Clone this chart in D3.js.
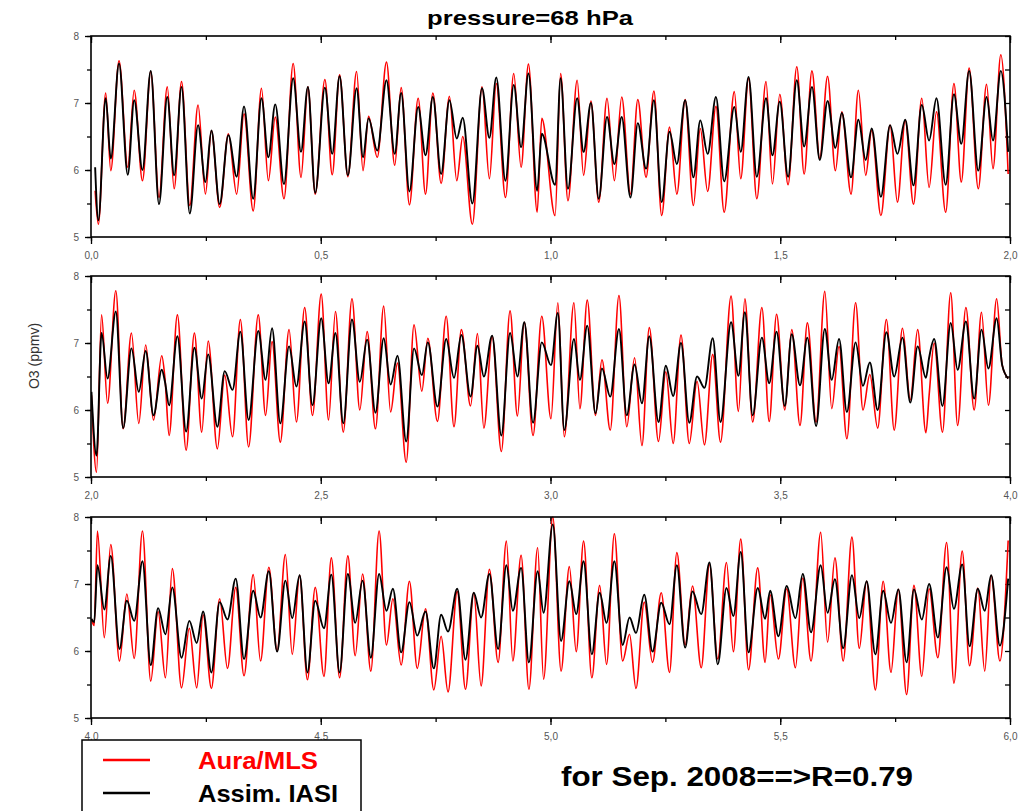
<!DOCTYPE html>
<html>
<head>
<meta charset="utf-8">
<script src="https://cdn.jsdelivr.net/npm/d3@7"></script>
<style>
  body { margin: 0; background: #fff; }
  svg { display: block; font-family: "Liberation Sans", Arial, sans-serif; }
</style>
</head>
<body>
<div id="chart"></div>
<script>
// values: peaks/troughs of both series, panel by panel
var p1X = [0.009,0.016,0.032,0.043,0.061,0.080,0.094,0.112,0.130,0.148,0.166,0.181,0.197,0.215,0.233,0.249,0.262,0.280,0.299,0.317,
  0.333,0.353,0.371,0.386,0.401,0.420,0.440,0.457,0.472,0.488,0.509,0.525,0.541,0.559,0.578,0.592,0.604,0.623,0.643,0.661,
  0.675,0.693,0.712,0.728,0.744,0.762,0.780,0.796,0.809,0.830,0.851,0.867,0.882,0.902,0.920,0.936,0.952,0.971,0.981,1.010,
  1.022,1.038,1.058,1.072,1.088,1.105,1.123,1.139,1.155,1.174,1.190,1.208,1.225,1.242,1.259,1.275,1.293,1.311,1.326,1.342,
  1.360,1.378,1.400,1.414,1.431,1.449,1.469,1.483,1.499,1.517,1.536,1.552,1.569,1.586,1.603,1.620,1.634,1.654,1.670,1.686,
  1.699,1.719,1.739,1.755,1.772,1.790,1.808,1.824,1.840,1.860,1.878,1.894,1.911,1.931,1.949,1.963,1.980,1.996];
var p1Mls = [5.69,5.19,7.15,5.99,7.63,6.04,7.19,5.84,7.47,5.59,7.24,5.72,7.32,5.47,6.97,5.64,6.59,5.44,6.54,5.64,
  6.84,5.39,7.22,5.84,6.79,5.57,7.59,5.89,7.24,5.64,7.35,5.93,7.42,5.90,7.47,5.99,6.80,6.19,7.61,6.07,
  7.23,5.48,7.07,5.64,7.15,5.80,7.10,5.84,6.50,5.19,7.24,5.87,7.29,5.59,7.44,6.04,7.58,5.37,6.77,5.32,
  7.44,5.54,7.34,5.92,7.03,5.52,7.07,5.84,7.09,5.64,7.05,5.89,7.18,5.32,6.64,5.64,7.05,5.47,6.62,5.68,
  6.95,5.37,7.17,5.87,7.37,5.57,7.32,5.79,7.13,5.78,7.54,5.94,7.48,6.17,7.40,5.99,6.87,5.64,7.19,5.92,
  6.59,5.32,6.67,5.52,6.74,5.49,7.07,5.74,6.87,5.37,7.29,5.82,7.52,5.72,7.28,6.02,7.72,5.94];
var p1Iasi = [6.04,5.25,7.07,6.17,7.59,5.93,7.04,6.00,7.48,5.49,7.09,5.92,7.24,5.35,6.67,5.82,6.59,5.49,6.52,5.90,
  6.95,5.57,7.07,6.19,6.98,5.79,7.37,6.27,7.24,5.66,7.23,6.24,7.40,5.92,7.22,6.19,6.77,6.29,7.34,6.24,
  7.15,5.68,6.94,6.22,7.09,5.94,7.04,6.47,6.78,5.50,7.22,6.48,7.38,5.84,7.27,6.34,7.44,5.69,6.54,5.78,
  7.37,5.72,7.07,6.27,7.00,5.57,6.79,6.09,6.79,5.59,6.70,6.02,7.04,5.52,6.57,6.09,7.04,5.89,6.74,6.24,
  7.09,5.83,6.94,6.27,7.39,5.90,7.07,6.22,7.02,5.90,7.34,6.35,7.24,6.15,7.03,6.33,6.85,5.89,6.75,6.15,
  6.62,5.60,6.67,6.24,6.75,5.77,6.97,6.44,7.07,5.78,7.13,6.39,7.48,5.99,7.09,6.44,7.48,6.27];

var p2X = [2.001,2.012,2.023,2.036,2.054,2.070,2.088,2.104,2.119,2.136,2.154,2.161,2.170,2.188,2.207,2.225,2.241,2.255,2.275,2.291,
  2.308,2.325,2.343,2.364,2.380,2.394,2.412,2.431,2.447,2.465,2.482,2.501,2.517,2.532,2.549,2.568,2.585,2.601,2.619,2.637,
  2.652,2.667,2.686,2.703,2.720,2.733,2.754,2.773,2.790,2.806,2.826,2.841,2.855,2.873,2.893,2.912,2.928,2.943,2.962,2.981,
  3.001,3.016,3.030,3.051,3.064,3.080,3.098,3.112,3.130,3.149,3.166,3.183,3.199,3.215,3.235,3.251,3.267,3.284,3.302,3.319,
  3.335,3.353,3.370,3.393,3.409,3.423,3.440,3.460,3.476,3.492,3.510,3.525,3.543,3.559,3.578,3.597,3.612,3.628,3.645,3.664,
  3.680,3.695,3.712,3.731,3.748,3.766,3.783,3.799,3.817,3.824,3.835,3.853,3.871,3.886,3.904,3.922,3.938,3.953,3.971,3.983,3.996];
var p2Mls = [6.22,5.07,7.42,6.10,7.78,5.72,7.15,5.80,6.97,5.85,6.81,6.47,5.62,7.42,5.40,7.15,5.67,7.03,5.42,6.52,
  5.60,7.35,5.45,7.42,5.92,7.02,5.52,7.20,5.82,7.53,5.92,7.73,5.85,7.47,5.67,7.66,6.00,7.17,5.72,7.55,
  5.97,6.70,5.22,7.27,6.28,7.07,5.83,7.40,5.75,7.20,6.06,7.14,5.73,7.10,5.38,7.48,5.91,7.31,5.62,7.40,
  5.87,7.60,5.60,7.60,6.02,7.64,5.92,6.75,5.70,7.71,5.75,6.78,5.47,7.23,5.53,6.57,5.50,7.12,5.50,6.43,
  5.48,6.83,5.52,7.70,5.98,7.66,5.82,7.53,5.83,7.43,6.00,7.20,5.77,7.30,5.82,7.77,6.02,6.95,5.57,7.60,
  6.00,6.53,5.73,7.35,5.70,7.22,6.15,7.20,5.66,6.22,7.00,5.67,7.75,5.77,7.53,6.00,7.46,6.07,7.66,6.67,6.47];
var p2Iasi = [6.27,5.32,7.15,6.47,7.47,5.73,6.92,6.27,6.88,5.92,6.60,6.42,6.07,7.10,5.68,6.93,6.17,6.83,5.75,6.58,
  6.30,7.17,5.85,7.18,6.45,7.22,5.80,6.95,6.35,7.32,6.07,7.37,6.40,7.15,5.80,7.35,6.42,7.05,5.96,7.07,
  6.38,6.81,5.53,6.92,6.52,7.01,6.05,7.06,6.48,7.12,6.20,6.96,6.50,7.11,5.62,7.15,6.50,7.31,5.81,7.01,
  6.67,7.45,5.70,7.06,6.45,7.26,5.95,6.62,6.20,7.21,5.92,6.68,6.10,7.10,5.82,6.66,6.21,7.00,5.81,6.50,
  6.33,7.07,5.82,7.31,6.51,7.46,5.92,7.08,6.40,7.17,6.06,7.13,6.37,7.08,5.76,7.21,6.45,7.06,5.97,7.01,
  6.36,6.71,6.00,7.16,6.50,7.08,6.11,6.95,6.48,6.78,7.06,6.06,7.30,6.60,7.32,6.17,7.20,6.62,7.37,6.67,6.47];

var p3X = [4.001,4.007,4.014,4.029,4.043,4.062,4.078,4.094,4.112,4.130,4.146,4.162,4.177,4.197,4.214,4.230,4.244,4.262,4.280,4.297,
  4.315,4.333,4.353,4.369,4.387,4.405,4.423,4.438,4.454,4.471,4.488,4.507,4.523,4.541,4.559,4.575,4.591,4.609,4.627,4.643,
  4.657,4.675,4.693,4.710,4.728,4.746,4.762,4.777,4.797,4.815,4.833,4.849,4.867,4.886,4.904,4.918,4.936,4.953,4.972,4.985,
  5.005,5.023,5.041,5.056,5.072,5.090,5.107,5.122,5.139,5.157,5.172,5.186,5.204,5.222,5.241,5.259,5.275,5.293,5.309,5.328,
  5.346,5.364,5.383,5.398,5.414,5.431,5.451,5.467,5.478,5.496,5.514,5.533,5.549,5.567,5.588,5.603,5.619,5.637,5.656,5.672,
  5.688,5.707,5.724,5.741,5.757,5.775,5.791,5.808,5.824,5.843,5.862,5.878,5.896,5.912,5.930,5.945,5.959,5.978,5.996];
var p3Mls = [6.48,6.38,7.79,6.20,7.59,5.85,6.85,5.89,7.79,5.55,6.59,5.60,7.23,5.45,6.34,5.45,6.54,5.44,6.78,5.74,
  6.95,5.63,7.14,5.85,7.25,6.00,7.44,5.95,7.13,5.57,6.95,5.62,7.39,5.60,7.42,5.93,7.15,5.70,7.79,6.09,
  6.78,5.79,7.04,5.74,6.63,5.42,6.22,5.39,6.89,5.43,6.87,5.48,7.22,5.83,7.64,5.85,7.43,5.43,7.54,5.58,
  8.00,5.70,7.26,5.99,7.64,5.60,6.98,5.80,7.75,5.85,6.25,5.44,6.73,5.83,6.87,5.68,7.47,6.09,6.97,5.75,
  7.29,5.88,7.32,5.99,7.67,5.72,7.24,5.83,6.84,5.88,6.93,5.75,7.09,5.85,7.77,6.13,7.39,5.85,7.70,6.04,
  7.04,5.42,7.04,5.68,6.92,5.35,6.98,5.62,6.93,5.90,7.62,5.52,7.49,5.78,6.94,5.70,7.13,5.85,7.65];
var p3Iasi = [6.48,6.43,7.28,6.62,7.42,6.03,6.75,6.45,7.34,5.79,6.64,6.25,6.95,5.90,6.45,6.12,6.59,5.68,6.73,6.47,
  7.08,5.88,6.90,6.50,7.19,5.99,7.05,6.49,7.13,5.68,6.75,6.34,7.14,5.68,7.15,6.42,7.05,5.90,7.15,6.60,
  6.93,5.98,6.73,6.23,6.59,5.74,6.54,6.29,6.93,5.87,6.87,6.50,7.15,6.03,7.28,6.60,7.24,5.83,7.19,6.57,
  7.89,6.15,7.04,6.55,7.34,5.95,6.87,6.42,7.34,6.09,6.50,6.27,6.84,5.99,6.72,6.40,7.28,6.05,6.89,6.55,
  7.32,5.80,6.94,6.52,7.48,5.98,6.94,6.48,6.90,6.22,6.97,6.49,7.15,6.28,7.28,6.57,7.07,6.04,7.13,6.49,
  7.04,5.95,6.90,6.42,6.92,5.83,6.92,6.47,7.00,6.20,7.25,6.63,7.29,6.07,6.93,6.60,7.13,6.08,7.08];

var panelRanges = [[0, 2], [2, 4], [4, 6]];
var yDomain = [5, 8];
var yTicks = [5, 6, 7, 8];
var seriesNames = ["Aura/MLS", "Assim. IASI"];
var seriesColors = ["#ff0000", "#000000"];
var titleText = "pressure=68 hPa";
var yLabel = "O3 (ppmv)";
var noteText = "for Sep. 2008==>R=0.79";

var panelData = [
  { x: p1X, mls: p1Mls, iasi: p1Iasi },
  { x: p2X, mls: p2Mls, iasi: p2Iasi },
  { x: p3X, mls: p3Mls, iasi: p3Iasi }
];

var width = 1019, height = 811;
var left = 91, right = 1010;
var panelTops = [36, 276, 517], panelH = 201;

var svg = d3.select("#chart").append("svg")
  .attr("width", width)
  .attr("height", height);

svg.append("rect").attr("width", width).attr("height", height).attr("fill", "#fff");

svg.append("text")
  .attr("x", 530).attr("y", 25)
  .attr("text-anchor", "middle")
  .attr("font-size", 21).attr("font-weight", "bold")
  .attr("textLength", 206).attr("lengthAdjust", "spacingAndGlyphs")
  .text(titleText);

svg.append("text")
  .attr("transform", "translate(39,356) rotate(-90)")
  .attr("text-anchor", "middle")
  .attr("font-size", 14).attr("fill", "#333")
  .text(yLabel);

var fmt = function(d) { return d3.format(".1f")(d).replace(".", ","); };

panelData.forEach(function(pd, i) {
  var top = panelTops[i], bottom = top + panelH;
  var x = d3.scaleLinear().domain(panelRanges[i]).range([left, right]);
  var y = d3.scaleLinear().domain(yDomain).range([bottom, top]);
  var g = svg.append("g");

  g.append("clipPath").attr("id", "clip" + i)
    .append("rect").attr("x", left).attr("y", top - 2)
    .attr("width", right - left).attr("height", panelH + 4);

  // minor then major ticks, all pointing down on x, left on y
  var xMinor = d3.range(panelRanges[i][0], panelRanges[i][1] + 0.001, 0.25);
  var xMajor = xMinor.filter(function(d, k) { return k % 2 === 0; });

  g.append("g").attr("transform", "translate(0," + bottom + ")")
    .call(d3.axisBottom(x).tickValues(xMinor).tickSize(4).tickFormat(""))
    .call(function(a) { a.select(".domain").remove(); });
  g.append("g").attr("transform", "translate(0," + bottom + ")")
    .call(d3.axisBottom(x).tickValues(xMajor).tickSize(7).tickPadding(8).tickFormat(fmt))
    .call(function(a) {
      a.select(".domain").remove();
      a.selectAll("text").attr("font-size", 10).attr("fill", "#555");
    });
  g.append("g").attr("transform", "translate(0," + top + ")")
    .call(d3.axisBottom(x).tickValues(xMinor).tickSize(4).tickFormat(""))
    .call(function(a) { a.select(".domain").remove(); });
  g.append("g").attr("transform", "translate(0," + top + ")")
    .call(d3.axisBottom(x).tickValues(xMajor).tickSize(7).tickFormat(""))
    .call(function(a) { a.select(".domain").remove(); });

  var yMinor = d3.range(yDomain[0], yDomain[1] + 0.001, 0.5);
  g.append("g").attr("transform", "translate(" + left + ",0)")
    .call(d3.axisLeft(y).tickValues(yMinor).tickSize(4).tickFormat(""))
    .call(function(a) { a.select(".domain").remove(); });
  g.append("g").attr("transform", "translate(" + left + ",0)")
    .call(d3.axisLeft(y).tickValues(yTicks).tickSize(6).tickPadding(6).tickFormat(d3.format("d")))
    .call(function(a) {
      a.select(".domain").remove();
      a.selectAll("text").attr("font-size", 10).attr("fill", "#555");
    });
  g.append("g").attr("transform", "translate(" + right + ",0)")
    .call(d3.axisLeft(y).tickValues(yMinor).tickSize(5).tickFormat(""))
    .call(function(a) { a.select(".domain").remove(); });

  g.selectAll(".tick line").attr("stroke", "#000").attr("stroke-width", 1.3);

  var line = d3.line()
    .x(function(d) { return x(d[0]); })
    .y(function(d) { return y(d[1]); })
    .curve(d3.curveMonotoneX);

  var series = [pd.mls, pd.iasi];
  series.forEach(function(vals, s) {
    g.append("path")
      .datum(pd.x.map(function(xv, k) { return [xv, vals[k]]; }))
      .attr("clip-path", "url(#clip" + i + ")")
      .attr("fill", "none")
      .attr("stroke", seriesColors[s])
      .attr("stroke-width", s === 0 ? 1.6 : 1.9)
      .attr("stroke-linejoin", "round")
      .attr("d", line);
  });

  g.append("rect")
    .attr("x", left).attr("y", top)
    .attr("width", right - left).attr("height", panelH)
    .attr("fill", "none").attr("stroke", "#000").attr("stroke-width", 1.6);
});

// legend
var lg = svg.append("g");
lg.append("rect").attr("x", 82).attr("y", 740).attr("width", 279).attr("height", 90)
  .attr("fill", "#fff").attr("stroke", "#000").attr("stroke-width", 1.5);
seriesNames.forEach(function(name, s) {
  var ly = 760 + s * 33;
  lg.append("line").attr("x1", 103).attr("x2", 150).attr("y1", ly).attr("y2", ly)
    .attr("stroke", seriesColors[s]).attr("stroke-width", 2.5);
  lg.append("text").attr("x", 198).attr("y", ly + 9)
    .attr("font-size", 24).attr("font-weight", "bold")
    .attr("fill", seriesColors[s])
    .attr("textLength", s === 0 ? 120 : 140).attr("lengthAdjust", "spacingAndGlyphs")
    .text(name);
});

svg.append("text")
  .attr("x", 561).attr("y", 786)
  .attr("font-size", 27).attr("font-weight", "bold")
  .attr("textLength", 352).attr("lengthAdjust", "spacingAndGlyphs")
  .text(noteText);
</script>
</body>
</html>
